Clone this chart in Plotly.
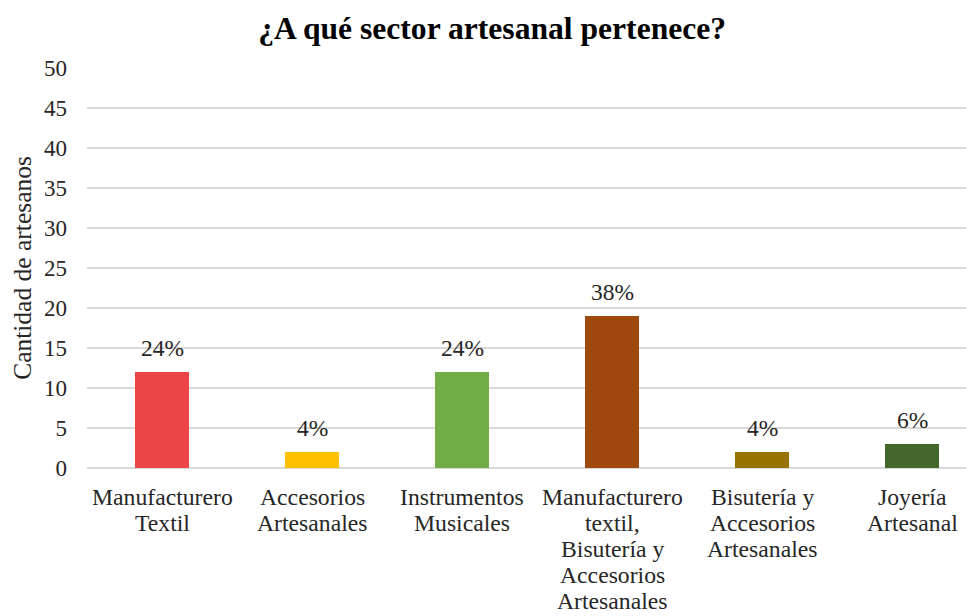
import plotly.graph_objects as go

categories = [
    "Manufacturero Textil",
    "Accesorios Artesanales",
    "Instrumentos Musicales",
    "Manufacturero textil, Bisutería y Accesorios Artesanales",
    "Bisutería y Accesorios Artesanales",
    "Joyería Artesanal",
]
category_lines = [
    ["Manufacturero", "Textil"],
    ["Accesorios", "Artesanales"],
    ["Instrumentos", "Musicales"],
    ["Manufacturero", "textil,", "Bisutería y", "Accesorios", "Artesanales"],
    ["Bisutería y", "Accesorios", "Artesanales"],
    ["Joyería", "Artesanal"],
]
values = [12, 2, 12, 19, 2, 3]
labels = ["24%", "4%", "24%", "38%", "4%", "6%"]
colors = ["#EB4545", "#FFC000", "#70AD47", "#9E480E", "#997300", "#43682B"]

FONT = "Liberation Serif, Times New Roman, serif"
TXT = "#262626"

fig = go.Figure(go.Bar(x=categories, y=values, marker_color=colors, width=0.36,
                       marker_line_width=0, hoverinfo="skip"))

for c, v, t in zip(categories, values, labels):
    fig.add_annotation(x=c, y=v, text=t, showarrow=False, yanchor="middle", yshift=24,
                       font=dict(family=FONT, size=23.5, color=TXT))

for c, lines in zip(categories, category_lines):
    for i, ln in enumerate(lines):
        fig.add_annotation(x=c, y=0, text=ln, showarrow=False, yanchor="middle",
                           yshift=-(29 + 26 * i),
                           font=dict(family=FONT, size=23.7, color=TXT))

fig.update_layout(
    width=982, height=616,
    margin=dict(l=79, r=3, t=60, b=156),
    paper_bgcolor="white", plot_bgcolor="white",
    font=dict(family=FONT, size=23, color=TXT),
    showlegend=False,
    title=dict(text="<b>¿A qué sector artesanal pertenece?</b>", x=0.493, xanchor="center",
               xref="container", y=0.968, yanchor="middle",
               font=dict(family=FONT, size=31.6, color="black")),
    xaxis=dict(showgrid=False, showline=False, ticks="", showticklabels=False,
               fixedrange=True),
    yaxis=dict(range=[0, 50], dtick=5, showgrid=True, gridcolor="#D9D9D9", gridwidth=1.5,
               zeroline=True, zerolinecolor="#D9D9D9", zerolinewidth=1.5,
               showline=False, ticks="", tickfont=dict(size=23), ticklabelstandoff=19,
               title=dict(text="Cantidad de artesanos", font=dict(size=25.5), standoff=8)),
)

fig.write_html("out.html")
